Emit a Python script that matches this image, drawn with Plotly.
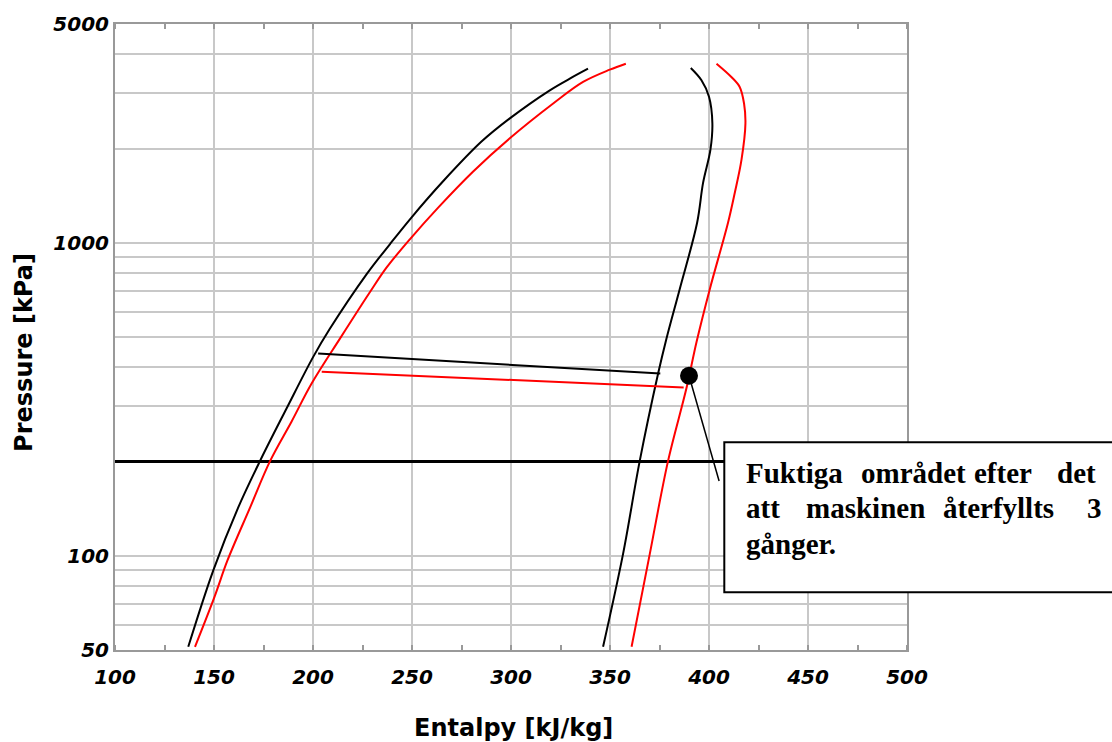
import plotly.graph_objects as go
import math

# ---------------- data ----------------
# Saturated liquid line, black fluid
black_liq_h = [137.0, 149.6, 162.2, 173.2, 186.7, 200.1, 208.5, 227.1, 238.8, 249.6, 265.7, 285.1, 299.4, 319.6, 329.7, 338.9]
black_liq_p = [51.2, 89.7, 142.5, 200.6, 296, 432, 531, 794, 989, 1202, 1572, 2105, 2497, 3070, 3345, 3598]
# Saturated vapour line, black fluid
black_vap_h = [390.8, 396.2, 400.0, 401.7, 400.7, 397.0, 394.0, 385.2, 378.5, 374.3, 365.0, 356.6, 346.5]
black_vap_p = [3616, 3304, 2926, 2407, 1980, 1553, 1159, 711, 494, 382, 200.6, 101.4, 51.2]
# Saturated liquid line, red fluid
red_liq_h = [140.4, 150.2, 156.8, 168.2, 178.3, 189.2, 199.3, 213.6, 228.7, 237.2, 248.9, 263.1, 280.9, 299.4, 321.3, 336.4, 349.9, 358.0]
red_liq_p = [51.2, 73.8, 96.6, 142.5, 200.6, 268.6, 355, 494, 695, 834, 1026, 1293, 1690, 2157, 2786, 3265, 3573, 3733]
# Saturated vapour line, red fluid
red_vap_h = [403.8, 411.3, 415.5, 417.7, 418.4, 416.4, 413.0, 409.6, 400.4, 393.7, 388.6, 379.3, 370.1, 360.9]
red_vap_p = [3733, 3386, 3147, 2786, 2407, 1840, 1443, 1159, 711, 482, 342.7, 200.6, 101.4, 51.2]
# Evaporation lines
black_evap_h = [202.6, 375.4]
black_evap_p = [442.6, 382.0]
red_evap_h = [204.4, 387.2]
red_evap_p = [387.0, 345.0]
# Reference pressure line
ref_line_h = [100, 500]
ref_line_p = [200, 200]
# Marked point and its leader
point_h = [389.9]
point_p = [376]
leader_h = [389.9, 405.1]
leader_p = [376, 173.3]

x_ticks = [100, 150, 200, 250, 300, 350, 400, 450, 500]
y_ticks = [50, 100, 1000, 5000]
y_minor = [60, 70, 80, 90, 200, 300, 400, 500, 600, 700, 800, 900, 2000, 3000, 4000]

note_lines = [
    ["Fuktiga", "området", "efter", "det"],
    ["att", "maskinen", "återfyllts", "3"],
    ["gånger."],
]
note_word_px = [
    [745.7, 860.7, 974.5, 1057.3],
    [745.7, 806.0, 943.3, 1086.7],
    [745.7],
]
note_baseline_px = [481.7, 516.7, 552.5]

# ---------------- layout geometry ----------------
W, H = 1112, 742
L, R, T, B = 115, 205, 20, 92
PW, PH = W - L - R, H - T - B


def px2paper_x(px):
    return (px - L) / PW


def px2paper_y(py):
    return (H - B - py) / PH


fig = go.Figure()

curve = dict(shape="spline", smoothing=1.0)
fig.add_trace(go.Scatter(x=ref_line_h, y=ref_line_p, mode="lines",
                         line=dict(color="black", width=3)))
fig.add_trace(go.Scatter(x=black_liq_h, y=black_liq_p, mode="lines",
                         line=dict(color="black", width=2, **curve)))
fig.add_trace(go.Scatter(x=black_vap_h, y=black_vap_p, mode="lines",
                         line=dict(color="black", width=2, **curve)))
fig.add_trace(go.Scatter(x=red_liq_h, y=red_liq_p, mode="lines",
                         line=dict(color="#ff0000", width=2, **curve)))
fig.add_trace(go.Scatter(x=red_vap_h, y=red_vap_p, mode="lines",
                         line=dict(color="#ff0000", width=2, **curve)))
fig.add_trace(go.Scatter(x=black_evap_h, y=black_evap_p, mode="lines",
                         line=dict(color="black", width=2)))
fig.add_trace(go.Scatter(x=red_evap_h, y=red_evap_p, mode="lines",
                         line=dict(color="#ff0000", width=2)))
fig.add_trace(go.Scatter(x=leader_h, y=leader_p, mode="lines",
                         line=dict(color="black", width=1.5)))
fig.add_trace(go.Scatter(x=point_h, y=point_p, mode="markers",
                         marker=dict(color="black", size=18)))

# text box (covers part of the plot, runs off the right edge)
fig.add_shape(type="rect", xref="paper", yref="paper",
              x0=px2paper_x(724.3), x1=px2paper_x(1130),
              y0=px2paper_y(592), y1=px2paper_y(441),
              line=dict(color="black", width=2), fillcolor="white", layer="above")

note_size = 29
for words, xs, base in zip(note_lines, note_word_px, note_baseline_px):
    for w, xp in zip(words, xs):
        fig.add_annotation(text=w, xref="paper", yref="paper",
                           x=px2paper_x(xp - 2), y=px2paper_y(base - 0.33 * note_size),
                           xanchor="left", yanchor="middle", showarrow=False,
                           font=dict(family="Liberation Serif", size=note_size,
                                     color="black", weight="bold"))

# axis titles
fig.add_annotation(text="Entalpy [kJ/kg]", xref="paper", yref="paper",
                   x=px2paper_x(513), y=px2paper_y(728), xanchor="center", yanchor="middle",
                   showarrow=False,
                   font=dict(family="DejaVu Sans", size=24, color="black", weight="bold"))
fig.add_annotation(text="Pressure [kPa]", xref="paper", yref="paper",
                   x=px2paper_x(24), y=px2paper_y(351), xanchor="center", yanchor="middle",
                   textangle=-90, showarrow=False,
                   font=dict(family="DejaVu Sans", size=24, color="black", weight="bold"))

tickfont = dict(family="DejaVu Sans", size=20, color="black", weight="bold", style="italic")

fig.update_xaxes(range=[100, 500], tickvals=x_ticks, ticktext=[str(v) for v in x_ticks],
                 showgrid=True, gridcolor="#c8c8c8", gridwidth=2,
                 showline=True, linecolor="#999999", linewidth=2, mirror="allticks",
                 ticks="", ticklabelstandoff=8, tickfont=tickfont, zeroline=False,
                 minor=dict(dtick=25, tick0=0, ticks="inside", ticklen=5, tickwidth=1.5,
                            tickcolor="#999999", showgrid=False))
fig.update_yaxes(type="log", range=[math.log10(50), math.log10(5000)],
                 tickvals=y_ticks, ticktext=[str(v) for v in y_ticks],
                 showgrid=True, gridcolor="#c8c8c8", gridwidth=2,
                 showline=True, linecolor="#999999", linewidth=2, mirror=True,
                 ticks="", ticklabelstandoff=0, tickfont=tickfont, zeroline=False,
                 minor=dict(tickvals=y_minor, showgrid=True, gridcolor="#c8c8c8", gridwidth=2,
                            ticks=""))

fig.update_layout(width=W, height=H, margin=dict(l=L, r=R, t=T, b=B),
                  paper_bgcolor="white", plot_bgcolor="white", showlegend=False)

fig.write_html("out.html")
